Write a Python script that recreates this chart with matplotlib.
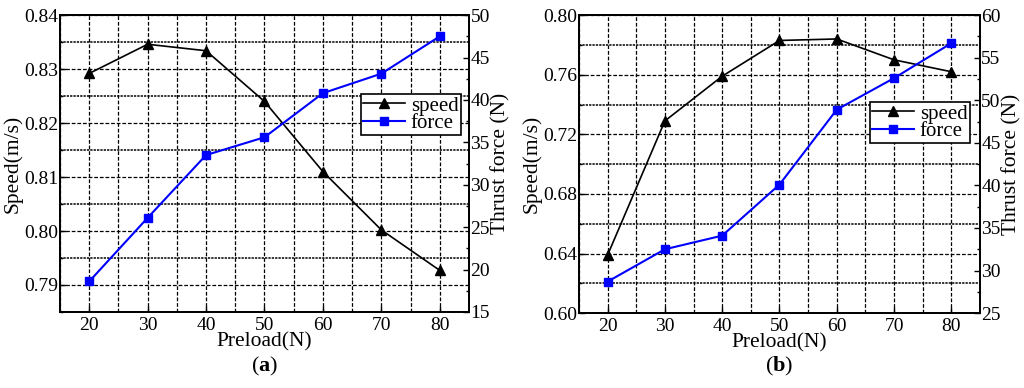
import matplotlib
matplotlib.use("Agg")
import matplotlib.pyplot as plt
from matplotlib.ticker import MultipleLocator, FormatStrFormatter

plt.rcParams['font.family'] = ['Liberation Serif', 'DejaVu Serif']
plt.rcParams['font.size'] = 14
plt.rcParams['mathtext.fontset'] = 'custom'
plt.rcParams['mathtext.bf'] = 'Liberation Serif:bold'
plt.rcParams['mathtext.rm'] = 'Liberation Serif'

preload = [20, 30, 40, 50, 60, 70, 80]

speed_a = [0.8292, 0.8346, 0.8334, 0.8240, 0.8110, 0.8002, 0.7927]
force_a = [18.6, 26.1, 33.5, 35.6, 40.8, 43.1, 47.5]

speed_b = [0.639, 0.729, 0.759, 0.783, 0.784, 0.770, 0.762]
force_b = [28.7, 32.5, 34.1, 40.1, 48.9, 52.6, 56.7]

panels = [
    dict(pos=[0.0586, 0.196, 0.3994, 0.765], speed=speed_a, force=force_a,
         ylim=(0.785, 0.84), ymaj=0.01, ymin=0.005,
         rlim=(15, 50), tag="a", leg=(0.995, 0.755)),
    dict(pos=[0.5654, 0.193, 0.3916, 0.768], speed=speed_b, force=force_b,
         ylim=(0.60, 0.80), ymaj=0.04, ymin=0.02,
         rlim=(25, 60), tag="b", leg=(0.99, 0.73)),
]

fig = plt.figure(figsize=(10.24, 3.88), dpi=100)

for p in panels:
    ax = fig.add_axes(p["pos"])
    ax2 = ax.twinx()
    l1, = ax.plot(preload, p["speed"], color='black', marker='^', markersize=7,
                  linewidth=1.2, label='speed')
    l2, = ax2.plot(preload, p["force"], color='blue', marker='s', markersize=6,
                   linewidth=1.5, label='force')
    ax.set_xlim(15, 85)
    ax.set_ylim(*p["ylim"])
    ax2.set_ylim(*p["rlim"])
    ax.xaxis.set_major_locator(MultipleLocator(10))
    ax.xaxis.set_minor_locator(MultipleLocator(5))
    ax.yaxis.set_major_locator(MultipleLocator(p["ymaj"]))
    ax.yaxis.set_minor_locator(MultipleLocator(p["ymin"]))
    ax.yaxis.set_major_formatter(FormatStrFormatter("%.2f"))
    ax2.yaxis.set_major_locator(MultipleLocator(5))
    ax2.yaxis.set_minor_locator(MultipleLocator(2.5))
    ax.grid(True, which='major', axis='both', color='black', linestyle=(0, (3, 1.5)), linewidth=0.9)
    ax.grid(True, which='minor', axis='x', color='black', linestyle=(0, (3, 1.5)), linewidth=0.9)
    ax.grid(True, which='minor', axis='y', color='black', linestyle=(0, (1.5, 0.7)), linewidth=1.1)
    ax.set_axisbelow(True)
    for a in (ax, ax2):
        a.tick_params(which='both', direction='in', length=4, width=1)
        a.tick_params(which='minor', length=2.5)
        for s in a.spines.values():
            s.set_linewidth(1.3)
    ax.tick_params(axis='x', which='minor', length=0)
    ax.tick_params(axis='y', pad=1)
    ax2.tick_params(axis='y', pad=1)
    ax.set_xlabel("Preload(N)", labelpad=-1, fontsize=15.5)
    ax.set_ylabel("Speed(m/s)", labelpad=1, fontsize=15.5)
    ax2.set_ylabel("Thrust force (N)", labelpad=1, fontsize=15.5)
    leg = ax2.legend([l1, l2], ['speed', 'force'], loc='upper right',
                     bbox_to_anchor=p["leg"], fancybox=False, framealpha=1,
                     edgecolor='black', borderpad=0.1, labelspacing=-0.1,
                     handlelength=2.0, handletextpad=0.3, borderaxespad=0.3,
                     prop={'family': ['Liberation Serif'], 'size': 15})
    leg.get_frame().set_linewidth(1.2)
    cx = p["pos"][0] + p["pos"][2] / 2
    fig.text(cx, 0.025, "(" + r"$\mathbf{" + p["tag"] + "}$" + ")", ha='center',
             va='bottom', fontsize=16)

fig.savefig("out.png", dpi=100)
